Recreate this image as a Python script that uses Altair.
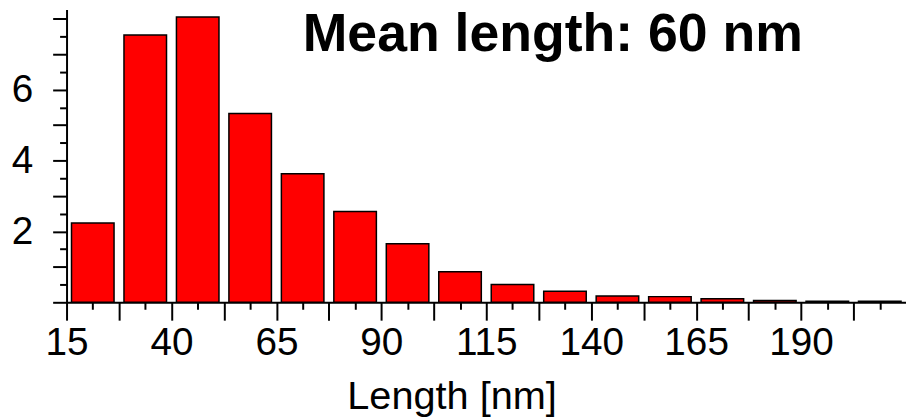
import altair as alt
import pandas as pd

# ---- data ----
bin_starts = [15, 27.5, 40, 52.5, 65, 77.5, 90, 102.5, 115, 127.5, 140, 152.5, 165, 177.5, 190, 202.5]
bin_ends = [27.5, 40, 52.5, 65, 77.5, 90, 102.5, 115, 127.5, 140, 152.5, 165, 177.5, 190, 202.5, 215]
counts = [2.24, 7.54, 8.05, 5.33, 3.63, 2.56, 1.65, 0.86, 0.50, 0.31, 0.18, 0.16, 0.10, 0.05, 0.03, 0.03]

x_ticks = [15, 21.25, 27.5, 33.75, 40, 46.25, 52.5, 58.75, 65, 71.25, 77.5, 83.75, 90, 96.25,
           102.5, 108.75, 115, 121.25, 127.5, 133.75, 140, 146.25, 152.5, 158.75, 165, 171.25,
           177.5, 183.75, 190, 196.25, 202.5, 208.75]
y_ticks = [0, 0.5, 1, 1.5, 2, 2.5, 3, 3.5, 4, 4.5, 5, 5.5, 6, 6.5, 7, 7.5, 8]

annotation = ["Mean length: 60 nm"]
x_title = "Length [nm]"

FONT = "Liberation Sans"

df = pd.DataFrame({"start": bin_starts, "end": bin_ends, "count": counts,
                   "base": [0] * len(counts)})

x_axis = alt.Axis(
    values=x_ticks,
    title=x_title,
    titleFont=FONT, titleFontSize=40, titleFontWeight="normal", titleColor="black",
    titleX=388, titleY=107, titleBaseline="alphabetic", titleAlign="center",
    labelExpr="((datum.value - 15) % 25 == 0) && datum.value < 200 ? format(datum.value, 'd') : ''",
    labelFont=FONT, labelFontSize=39, labelColor="black",
    labelBaseline="alphabetic", labelPadding=35, labelOverlap=False, labelFlush=False,
    tickSize={"condition": {"test": "(datum.value - 15) % 12.5 == 0", "value": 18}, "value": 7},
    tickWidth=2, tickColor="black",
    domainColor="black", domainWidth=2, grid=False,
)

y_axis = alt.Axis(
    values=y_ticks,
    title=None,
    labelExpr="(datum.value % 2 == 0) && datum.value > 0 && datum.value < 8 ? format(datum.value, 'd') : ''",
    labelFont=FONT, labelFontSize=39, labelColor="black",
    labelPadding=20, labelOverlap=False, labelFlush=False,
    tickSize={"condition": {"test": "datum.value % 1 == 0", "value": 14}, "value": 7},
    tickWidth=2, tickColor="black",
    domainColor="black", domainWidth=2, grid=False,
)

bars = alt.Chart(df).mark_rect(
    fill="#ff0000", stroke="#000000", strokeWidth=1.5, xOffset=5, x2Offset=-5, opacity=1
).encode(
    x=alt.X("start:Q", scale=alt.Scale(domain=[15, 215], nice=False, zero=False), axis=x_axis),
    x2="end:Q",
    y=alt.Y("count:Q", scale=alt.Scale(domain=[0, 8.26], nice=False), axis=y_axis),
    y2="base:Q",
)

label = alt.Chart(pd.DataFrame({"text": annotation})).mark_text(
    font=FONT, fontSize=54, fontWeight="bold", color="black", align="left", baseline="alphabetic"
).encode(
    text="text:N",
    x=alt.value(238),
    y=alt.value(42),
)

chart = alt.layer(bars, label).properties(
    width=846,
    height=295,
    autosize=alt.AutoSizeParams(type="none"),
    padding={"left": 59, "top": 0, "right": 0, "bottom": 114},
    background="white",
).configure_view(stroke=None)

chart.save("out.html", embed_options={"renderer": "svg", "actions": False})
